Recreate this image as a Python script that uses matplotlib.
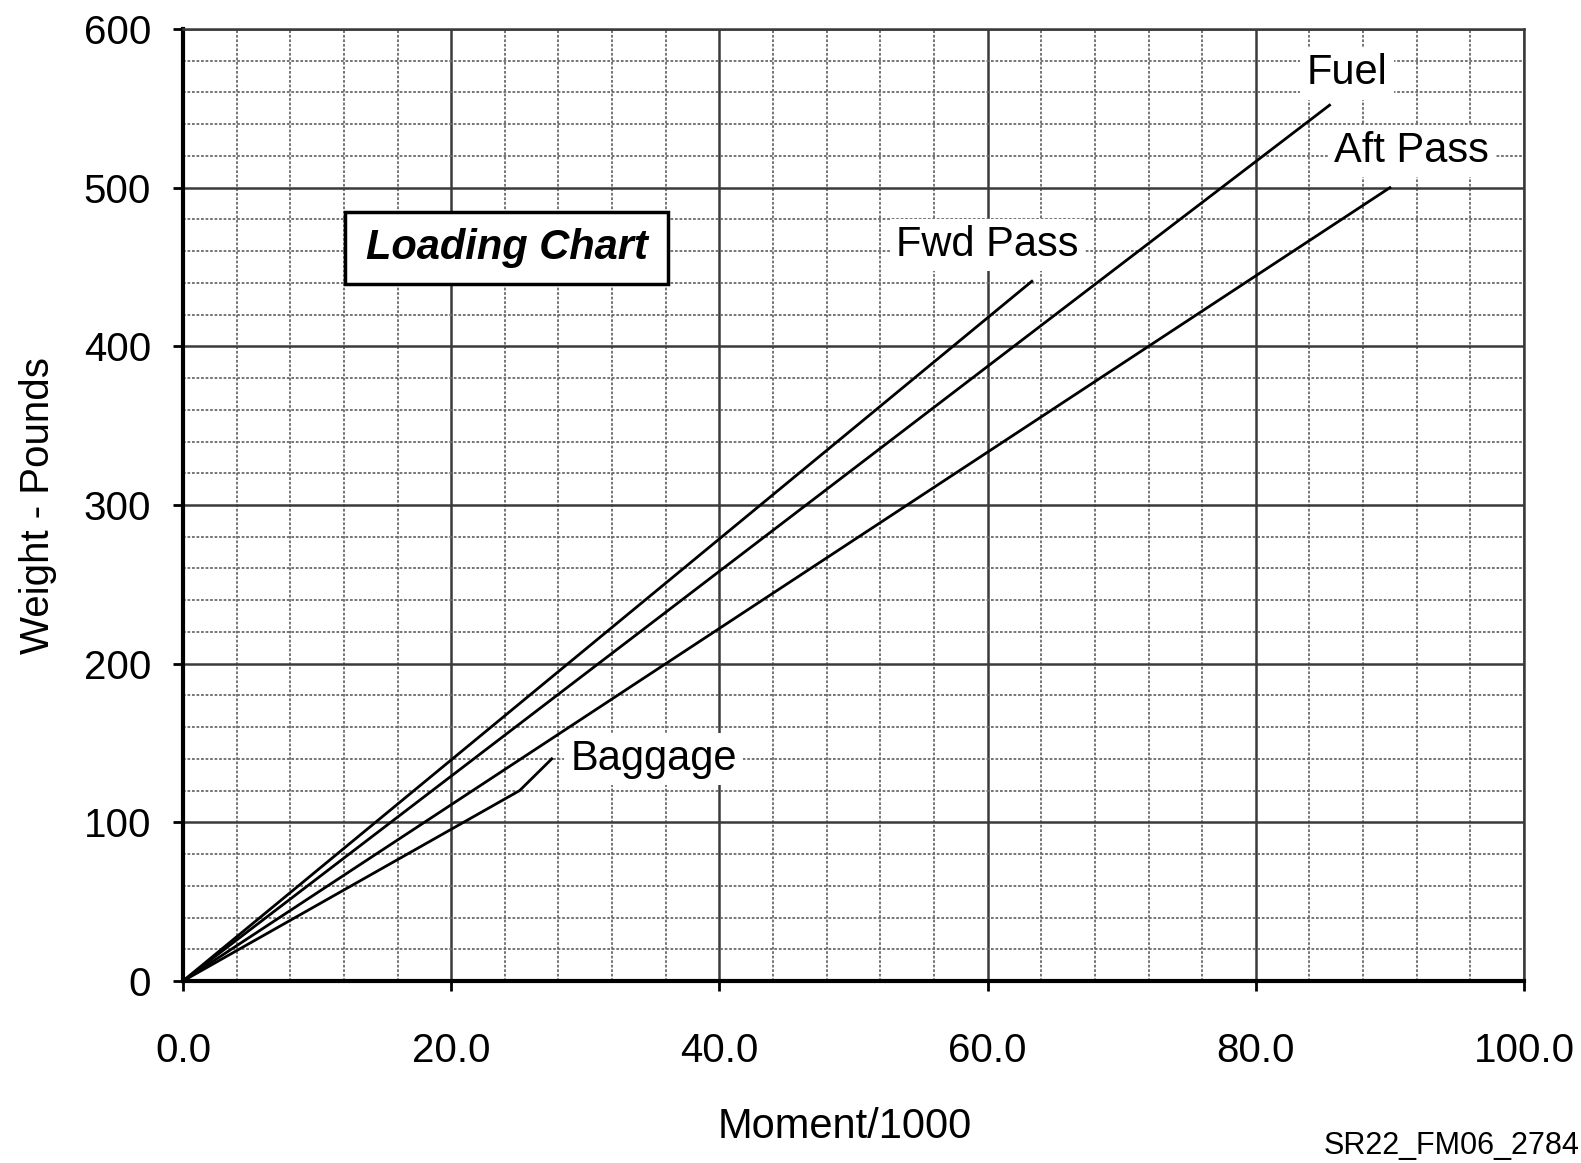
import matplotlib
matplotlib.use("Agg")
import matplotlib.pyplot as plt
from matplotlib.patches import Rectangle
from matplotlib.ticker import MultipleLocator, FuncFormatter

plt.rcParams['font.family'] = ['Liberation Sans', 'DejaVu Sans']

# Data (moment/1000 vs weight)
fwd_x = [0.0, 63.3]
fwd_y = [0, 441]
fuel_x = [0.0, 85.5]
fuel_y = [0, 552]
aft_x = [0.0, 90.0]
aft_y = [0, 500]
bag_x = [0.0, 25.1, 27.5]
bag_y = [0, 120, 140]

x_ticks = [0, 20, 40, 60, 80, 100]
y_ticks = [0, 100, 200, 300, 400, 500, 600]

fig = plt.figure(figsize=(15.81, 11.63), dpi=100)
ax = fig.add_axes([183/1581, 1-981/1163, (1524-183)/1581, (981-29)/1163])
ax.set_xlim(0, 100)
ax.set_ylim(0, 600)

ax.set_xticks(x_ticks)
ax.set_yticks(y_ticks)
ax.xaxis.set_minor_locator(MultipleLocator(4))
ax.yaxis.set_minor_locator(MultipleLocator(20))
ax.xaxis.set_major_formatter(FuncFormatter(lambda v, p: f"{v:.1f}"))
ax.yaxis.set_major_formatter(FuncFormatter(lambda v, p: f"{v:.0f}"))

ax.grid(which='major', color='#3a3a3a', lw=1.8, ls='-', zorder=0)
ax.grid(which='minor', color='#6a6a6a', lw=1.3, ls=(0, (1.5, 1.0)), zorder=0)
ax.set_axisbelow(True)

ax.tick_params(axis='x', which='major', direction='out', length=7, width=2,
               labelsize=29, pad=30, colors='black')
ax.tick_params(axis='y', which='major', direction='out', length=7, width=2,
               labelsize=29, pad=16, colors='black')
ax.tick_params(which='minor', length=0)

for s in ['left', 'bottom']:
    ax.spines[s].set_linewidth(3)
    ax.spines[s].set_color('black')
for s in ['top', 'right']:
    ax.spines[s].set_linewidth(1.8)
    ax.spines[s].set_color('#3a3a3a')

lw = 2.0
ax.plot(fwd_x, fwd_y, color='black', lw=lw, zorder=3)
ax.plot(fuel_x, fuel_y, color='black', lw=lw, zorder=3)
ax.plot(aft_x, aft_y, color='black', lw=lw, zorder=3)
ax.plot(bag_x, bag_y, color='black', lw=lw, zorder=3)

bb = dict(boxstyle='square,pad=0.15', fc='white', ec='none')
ax.text(60.0, 464, 'Fwd Pass', fontsize=30, ha='center', va='center', bbox=bb, zorder=4)
ax.text(86.8, 572, 'Fuel', fontsize=30, ha='center', va='center', bbox=bb, zorder=4)
ax.text(91.6, 523, 'Aft Pass', fontsize=30, ha='center', va='center', bbox=bb, zorder=4)
ax.text(35.1, 140, 'Baggage', fontsize=30, ha='center', va='center', bbox=bb, zorder=4)

ax.add_patch(Rectangle((12.1, 439.1), 36.2-12.1, 484.8-439.1, fc='white',
                       ec='black', lw=2.5, zorder=4))
ax.text(24.15, 462, 'Loading Chart', fontsize=30, fontweight='bold',
        fontstyle='italic', ha='center', va='center', zorder=5)

ax.set_ylabel('Weight - Pounds', fontsize=29)
ax.yaxis.set_label_coords((38-183)/1341, 0.5)
ax.yaxis.label.set_va('center')
ax.set_xlabel('Moment/1000', fontsize=30)
ax.xaxis.set_label_coords((845-183)/1341, (981-1127)/952)
ax.xaxis.label.set_va('center')

fig.text(1579/1581, 1-1146/1163, 'SR22_FM06_2784', fontsize=22,
         ha='right', va='center')

fig.savefig('out.png', dpi=100, facecolor='white')
